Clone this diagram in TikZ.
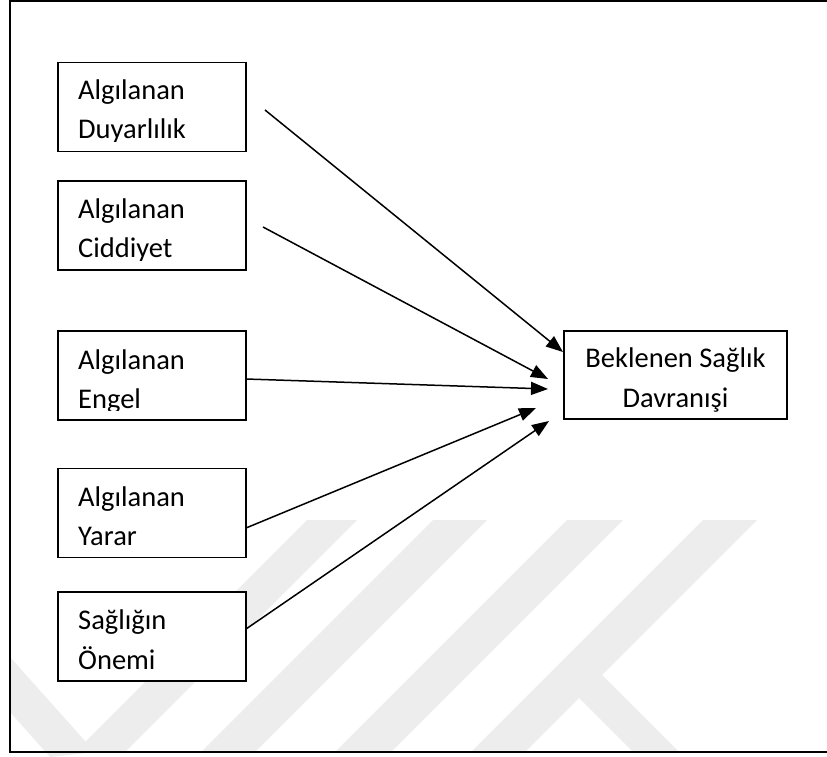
\documentclass[tikz,border=0pt]{standalone}
\usepackage{fontspec}
\setmainfont{Carlito}
\usetikzlibrary{arrows.meta}
\begin{document}
\begin{tikzpicture}[x=1pt,y=-1pt,
  srcbox/.style={draw, line width=1.7pt, fill=white, inner sep=0pt, outer sep=0pt,
    minimum width=188pt, minimum height=89pt},
  tgtbox/.style={draw, line width=1.7pt, fill=white, inner sep=0pt, outer sep=0pt,
    minimum width=223pt, minimum height=88pt},
  lbl/.style={anchor=base west, inner sep=0pt, font=\fontsize{28.5}{34}\selectfont},
  clbl/.style={anchor=base, inner sep=0pt, font=\fontsize{28.5}{34}\selectfont},
  conn/.style={line width=1.5pt, -{Triangle[length=17pt,width=13pt]}},
  frameline/.style={line width=2.5pt},
  wm/.style={fill=black!7}]
\useasboundingbox (0,0) rectangle (827,757);
% faint watermark
\fill[wm] (10,657) -- (95,752) -- (50,757) -- (10,712) -- cycle;
\fill[wm] (307,520) -- (357,520) -- (125,752) -- (75,752) -- cycle;
\fill[wm] (433,520) -- (487,520) -- (255,752) -- (201,752) -- cycle;
\fill[wm] (567,520) -- (623,520) -- (391,752) -- (335,752) -- cycle;
\fill[wm] (703,520) -- (757,520) -- (525,752) -- (471,752) -- cycle;
\fill[wm] (602,675) -- (679,752) -- (633,752) -- (579,698) -- cycle;
% frame
\draw[frameline] (827,1) -- (10,1) -- (10,752) -- (827,752);
% boxes
\node[srcbox] (b1) at (152,107) {};
\node[srcbox] (b2) at (152,225.5) {};
\node[srcbox] (b3) at (152,375.5) {};
\node[srcbox] (b4) at (152,513) {};
\node[srcbox] (b5) at (152,636.5) {};
\node[tgtbox] (t) at (675.5,375) {};
% texts (clipped as in the text boxes)
\begin{scope}
\clip (b1.north west) rectangle ([yshift=10pt]b1.south east);
\node[lbl] (t1a) at (78,100) {Algılanan};
\node[lbl] (t1b) at (78,139) {Duyarlılık};
\end{scope}
\begin{scope}
\clip (b2.north west) rectangle ([yshift=10pt]b2.south east);
\node[lbl] (t2a) at (78,218) {Algılanan};
\node[lbl] (t2b) at (78,257) {Ciddiyet};
\end{scope}
\begin{scope}
\clip (b3.north west) rectangle ([yshift=10pt]b3.south east);
\node[lbl] (t3a) at (78,369) {Algılanan};
\node[lbl] (t3b) at (78,408) {Engel};
\end{scope}
\begin{scope}
\clip (b4.north west) rectangle ([yshift=10pt]b4.south east);
\node[lbl] (t4a) at (78,506) {Algılanan};
\node[lbl] (t4b) at (78,545) {Yarar};
\end{scope}
\begin{scope}
\clip (b5.north west) rectangle ([yshift=10pt]b5.south east);
\node[lbl] (t5a) at (78,629) {Sağlığın};
\node[lbl] (t5b) at (78,669) {Önemi};
\end{scope}
\node[clbl] (tta) at (675.5,367) {Beklenen Sağlık};
\node[clbl] (ttb) at (675.5,407) {Davranışi};
% connector end points
\coordinate (s1) at (265,110);
\coordinate (s2) at (263,227);
\coordinate (s3) at (b3.east |- 0,379);
\coordinate (s4) at (b4.east |- 0,528);
\coordinate (s5) at (b5.east |- 0,629);
\coordinate (e1) at (563,352);
\coordinate (e2) at (548,379);
\coordinate (e3) at (548,389);
\coordinate (e4) at (536,408);
\coordinate (e5) at (549,421);
\draw[conn] (s1) -- (e1);
\draw[conn] (s2) -- (e2);
\draw[conn] (s3) -- (e3);
\draw[conn] (s4) -- (e4);
\draw[conn] (s5) -- (e5);
\end{tikzpicture}
\end{document}
